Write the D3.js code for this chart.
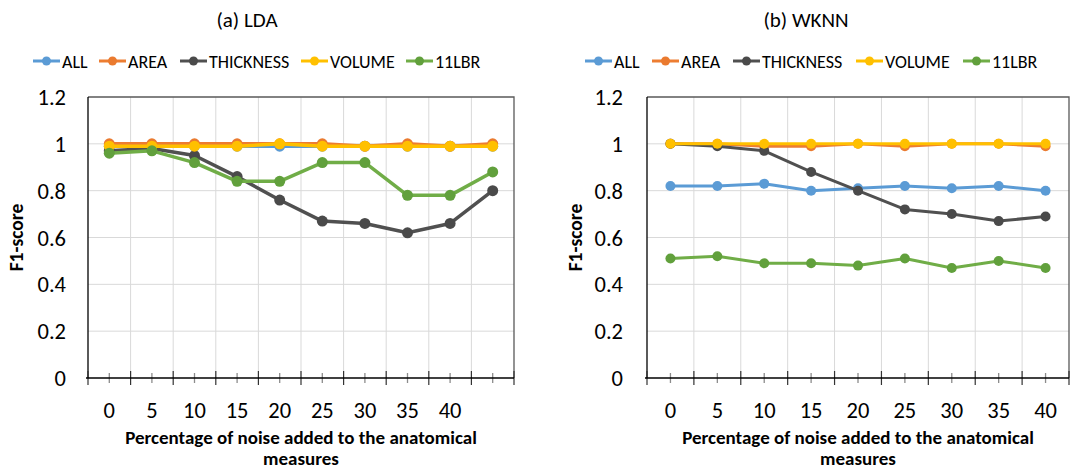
<!DOCTYPE html>
<html>
<head>
<meta charset="utf-8">
<script src="https://cdnjs.cloudflare.com/ajax/libs/d3/7.8.5/d3.min.js"></script>
<style>
  body { margin: 0; background: #fff; }
  text { font-family: Carlito, Lato, "Open Sans", sans-serif; fill: #000; }
</style>
</head>
<body>
<script>
// series names + colours (Excel default palette, dark gray for thickness)
var seriesNames = ['ALL', 'AREA', 'THICKNESS', 'VOLUME', '11LBR']
var lineColors = ['#5B9BD5', '#ED7D31', '#505050', '#FFC000', '#70AD47']
var dotColors = ['#5B9BD5', '#EA7A2F', '#4A4A4A', '#FFC000', '#61A03C']

// (a) LDA - 10 points, last one has no label
var ldaCats = ['0', '5', '10', '15', '20', '25', '30', '35', '40', '45']
var ldaTickLabels = ['0', '5', '10', '15', '20', '25', '30', '35', '40', '']
var ldaAll = [0.99, 0.99, 0.99, 0.99, 0.99, 0.99, 0.99, 0.99, 0.99, 0.99]
var ldaArea = [1, 1, 1, 1, 1, 1, 0.99, 1, 0.99, 1]
var ldaThickness = [0.97, 0.98, 0.95, 0.86, 0.76, 0.67, 0.66, 0.62, 0.66, 0.80]
var ldaVolume = [0.99, 0.99, 0.99, 0.99, 1, 0.99, 0.99, 0.99, 0.99, 0.99]
var lda11lbr = [0.96, 0.97, 0.92, 0.84, 0.84, 0.92, 0.92, 0.78, 0.78, 0.88]

// (b) WKNN
var wknnCats = ['0', '5', '10', '15', '20', '25', '30', '35', '40']
var wknnTickLabels = ['0', '5', '10', '15', '20', '25', '30', '35', '40']
var wknnAll = [0.82, 0.82, 0.83, 0.80, 0.81, 0.82, 0.81, 0.82, 0.80]
var wknnArea = [1, 1, 0.99, 0.99, 1, 0.99, 1, 1, 0.99]
var wknnThickness = [1, 0.99, 0.97, 0.88, 0.80, 0.72, 0.70, 0.67, 0.69]
var wknnVolume = [1, 1, 1, 1, 1, 1, 1, 1, 1]
var wknn11lbr = [0.51, 0.52, 0.49, 0.49, 0.48, 0.51, 0.47, 0.50, 0.47]

var yTicks = [0, 0.2, 0.4, 0.6, 0.8, 1, 1.2]

var svg = d3.select('body').append('svg')
    .attr('width', 1073).attr('height', 471)

var drawPanel = function(cfg) {
  var g = svg.append('g')

  var x = d3.scaleBand().domain(cfg.cats).range([cfg.left, cfg.right]).padding(0)
  var y = d3.scaleLinear().domain([0, 1.2]).range([cfg.bottom, cfg.top])
  var cx = function(d, i) { return x(cfg.cats[i]) + x.bandwidth() / 2 }

  // title
  g.append('text').attr('x', cfg.titleX).attr('y', 27)
      .attr('text-anchor', 'middle').style('font-size', '21px')
      .text(cfg.title)

  // legend
  var lg = g.append('g')
  cfg.legendX.forEach(function(lx, i) {
    lg.append('line').attr('x1', lx).attr('x2', lx + 27).attr('y1', 61).attr('y2', 61)
        .attr('stroke', lineColors[i]).attr('stroke-width', 3)
    lg.append('circle').attr('cx', lx + 13.5).attr('cy', 61).attr('r', 4.5)
        .attr('fill', dotColors[i])
    lg.append('text').attr('x', lx + 29).attr('y', 67.5)
        .style('font-size', '18px').text(seriesNames[i])
  })

  // horizontal gridlines
  g.append('g').selectAll('line').data(yTicks.slice(1, -1)).enter().append('line')
      .attr('x1', cfg.left).attr('x2', cfg.right)
      .attr('y1', function(d) { return y(d) }).attr('y2', function(d) { return y(d) })
      .attr('stroke', '#D9D9D9').attr('stroke-width', 1)

  // vertical gridlines at band boundaries
  var inner = cfg.cats.slice(1)
  g.append('g').selectAll('line').data(inner).enter().append('line')
      .attr('x1', function(d) { return x(d) }).attr('x2', function(d) { return x(d) })
      .attr('y1', cfg.top).attr('y2', cfg.bottom)
      .attr('stroke', '#D9D9D9').attr('stroke-width', 1)

  // top and right border of plot area
  g.append('path')
      .attr('d', 'M' + cfg.left + ',' + cfg.top + 'H' + cfg.right + 'V' + cfg.bottom)
      .attr('fill', 'none').attr('stroke', '#595959').attr('stroke-width', 1.3)

  // y axis labels
  g.append('g').selectAll('text').data(yTicks).enter().append('text')
      .attr('x', cfg.left - cfg.yLabelGap)
      .attr('y', function(d) { return y(d) + 8 })
      .attr('text-anchor', 'end').style('font-size', '22.5px')
      .text(function(d) { return d3.format('~g')(d) })

  // y axis line
  g.append('line').attr('x1', cfg.left).attr('x2', cfg.left)
      .attr('y1', cfg.top).attr('y2', cfg.bottom)
      .attr('stroke', '#000').attr('stroke-width', 1.3)

  // x axis: center ticks (gray, short) then boundary ticks (dark, long)
  g.append('g').selectAll('line').data(cfg.cats).enter().append('line')
      .attr('x1', cx).attr('x2', cx)
      .attr('y1', cfg.bottom - 5).attr('y2', cfg.bottom + 5)
      .attr('stroke', '#8C8C8C').attr('stroke-width', 1.3)
  var bounds = cfg.cats.map(function(d) { return x(d) }).concat([cfg.right])
  g.append('g').selectAll('line').data(bounds).enter().append('line')
      .attr('x1', function(d) { return d }).attr('x2', function(d) { return d })
      .attr('y1', cfg.bottom - 7).attr('y2', cfg.bottom + 7)
      .attr('stroke', '#333').attr('stroke-width', 1.2)
  g.append('line').attr('x1', cfg.left - 2).attr('x2', cfg.right)
      .attr('y1', cfg.bottom).attr('y2', cfg.bottom)
      .attr('stroke', '#000').attr('stroke-width', 1.3)

  // x tick labels
  g.append('g').selectAll('text').data(cfg.tickLabels).enter().append('text')
      .attr('x', cx).attr('y', 418)
      .attr('text-anchor', 'middle').style('font-size', '22.5px')
      .text(function(d) { return d })

  // axis titles
  var midX = (cfg.left + cfg.right) / 2
  g.append('text').attr('x', midX).attr('y', 444).attr('text-anchor', 'middle')
      .style('font-size', '19px').style('font-weight', 'bold')
      .text('Percentage of noise added to the anatomical')
  g.append('text').attr('x', midX).attr('y', 465).attr('text-anchor', 'middle')
      .style('font-size', '19px').style('font-weight', 'bold')
      .text('measures')
  g.append('text')
      .attr('transform', 'translate(' + cfg.yTitleX + ',' + ((cfg.top + cfg.bottom) / 2) + ') rotate(-90)')
      .attr('text-anchor', 'middle')
      .style('font-size', '19.5px').style('font-weight', 'bold')
      .text('F1-score')

  // series
  var line = d3.line().x(cx).y(function(d) { return y(d) })
  cfg.series.forEach(function(vals, s) {
    g.append('path').datum(vals).attr('d', line)
        .attr('fill', 'none').attr('stroke', lineColors[s])
        .attr('stroke-width', cfg.lineW).attr('stroke-linejoin', 'round')
    g.append('g').selectAll('circle').data(vals).enter().append('circle')
        .attr('cx', cx).attr('cy', function(d) { return y(d) })
        .attr('r', cfg.dotR).attr('fill', dotColors[s])
  })
}

drawPanel({
  title: '(a) LDA', titleX: 247,
  cats: ldaCats, tickLabels: ldaTickLabels,
  series: [ldaAll, ldaArea, ldaThickness, ldaVolume, lda11lbr],
  left: 88, right: 514, top: 97, bottom: 378,
  yLabelGap: 22, yTitleX: 23,
  legendX: [33, 99, 180, 301, 406],
  lineW: 3.5, dotR: 5.5
})

drawPanel({
  title: '(b) WKNN', titleX: 806,
  cats: wknnCats, tickLabels: wknnTickLabels,
  series: [wknnAll, wknnArea, wknnThickness, wknnVolume, wknn11lbr],
  left: 647, right: 1069, top: 97, bottom: 378,
  yLabelGap: 24, yTitleX: 582,
  legendX: [585, 652, 733, 856, 963],
  lineW: 3, dotR: 5
})
</script>
</body>
</html>
